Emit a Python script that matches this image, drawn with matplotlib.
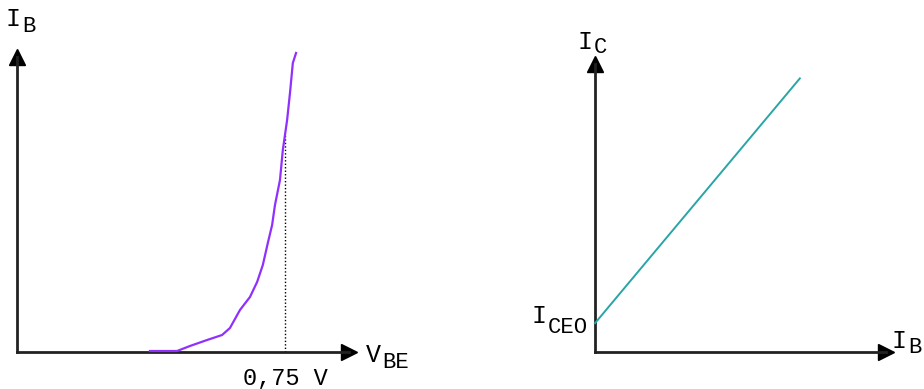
import numpy as np
import matplotlib
matplotlib.use("Agg")
import matplotlib.pyplot as plt

# input characteristic (left): V_BE in volts, I_B in uA (arbitrary scale)
vbe = [0.372, 0.448, 0.484, 0.532, 0.574, 0.596, 0.624, 0.652, 0.672, 0.688,
       0.702, 0.714, 0.722, 0.736, 0.744, 0.756, 0.764, 0.772, 0.781]
ib_in = [1, 1, 6, 12, 17, 24, 42, 55, 70, 87,
         109, 127, 147, 172, 202, 232, 259, 289, 299]
v_knee = 0.75
v_knee_label = "0,75 V"

# transfer characteristic (right): I_B vs I_C, arbitrary units
ib_tr = [0, 70.4]
ic_tr = [1.0, 9.5]

W, H = 924, 389
MONO = "Liberation Mono"
AXCOL = "#222222"
SIZE, SUBSIZE = 18, 16
ADV = 0.6 * SIZE * 100 / 72  # monospace advance in pixels


def px(x, y):
    # pixel position (from top-left) to figure fraction
    return x / W, 1 - y / H


def style_axes(ax):
    for s in ("top", "right"):
        ax.spines[s].set_visible(False)
    for s in ("left", "bottom"):
        ax.spines[s].set_linewidth(2)
        ax.spines[s].set_color(AXCOL)
    ax.set_xticks([])
    ax.set_yticks([])
    ax.patch.set_alpha(0)
    # arrow heads at the axis ends
    ax.plot(1, 0, ">", color="black", ms=11, transform=ax.transAxes, clip_on=False)
    ax.plot(0, 1, "^", color="black", ms=11, transform=ax.transAxes, clip_on=False)


def label(fig, x, y, main, sub, sy):
    fig.text(*px(x, y), main, fontsize=SIZE, family=MONO, va="baseline", ha="left")
    sx = x + ADV * len(main) + 1
    fig.text(*px(sx, sy), sub, fontsize=SUBSIZE, family=MONO, va="baseline", ha="left")


fig = plt.figure(figsize=(W / 100, H / 100), dpi=100)

# left: I_B vs V_BE
ax1 = fig.add_axes([17 / W, 37 / H, (349 - 17) / W, (352 - 57) / H])
style_axes(ax1)
ax1.set_xlim(0, (349 - 17) / 357.3)
ax1.set_ylim(0, 295)
ax1.plot(vbe, ib_in, color="#9030ff", lw=1.6, clip_on=False, zorder=3,
         solid_joinstyle="round")
ib_knee = np.interp(v_knee, vbe, ib_in)
ax1.plot([v_knee, v_knee], [0, ib_knee], color="black", lw=1, ls=(0, (1, 1.5)))

# right: I_C vs I_B
ax2 = fig.add_axes([595 / W, 37 / H, (886 - 595) / W, (352 - 64) / H])
style_axes(ax2)
ax2.set_xlim(0, 100)
ax2.set_ylim(0, 10)
ax2.plot(ib_tr, ic_tr, color="#2aa5a5", lw=1.4, clip_on=False, zorder=3)

# labels
label(fig, 6, 26, "I", "B", 32)
label(fig, 366, 362, "V", "BE", 368)
fig.text(*px(285, 385), v_knee_label, fontsize=17, family=MONO, ha="center", va="baseline")
label(fig, 892, 348, "I", "B", 353)
label(fig, 532, 323, "I", "CEO", 333)
label(fig, 578, 49, "I", "C", 53)

fig.savefig("out.png", dpi=100)
